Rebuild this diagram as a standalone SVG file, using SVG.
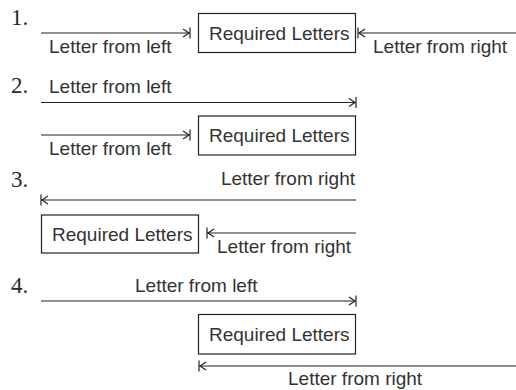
<svg xmlns="http://www.w3.org/2000/svg" width="516" height="390" viewBox="0 0 516 390">
  <style>
    .box { fill: #fff; stroke: #222; stroke-width: 1.2; }
    .lbl { font-family: "Liberation Sans", Arial, sans-serif; font-size: 19px; fill: #333; }
    .num { font-family: "Liberation Serif", "Times New Roman", serif; font-size: 23px; fill: #2a2a2a; }
    .wire { fill: none; stroke: #222; stroke-width: 1.2; marker-end: url(#tipbar); }
  </style>
  <defs>
    <!-- open arrowhead with a stop bar at the tip -->
    <marker id="tipbar" viewBox="-8 -7 10 14" refX="0" refY="0" markerWidth="10" markerHeight="14" markerUnits="userSpaceOnUse" orient="auto" overflow="visible">
      <path d="M-6,-4 L0,0 L-6,4 M1,-5.5 V5.5" fill="none" stroke="#222" stroke-width="1.2"/>
    </marker>
  </defs>

  <!-- case numbers -->
  <g id="numbers">
    <text class="num" x="11" y="25">1.</text>
    <text class="num" x="11" y="93">2.</text>
    <text class="num" x="11" y="187">3.</text>
    <text class="num" x="11" y="293">4.</text>
  </g>

  <!-- required-letter boxes -->
  <g id="box1">
    <rect class="box" x="198.5" y="13.5" width="157" height="39"/>
    <text class="lbl" x="209" y="39.5">Required Letters</text>
  </g>
  <g id="box2">
    <rect class="box" x="198.5" y="116" width="157" height="39"/>
    <text class="lbl" x="209" y="142">Required Letters</text>
  </g>
  <g id="box3">
    <rect class="box" x="41.5" y="215" width="157" height="38"/>
    <text class="lbl" x="52" y="240.5">Required Letters</text>
  </g>
  <g id="box4">
    <rect class="box" x="198.5" y="314.5" width="157" height="39.5"/>
    <text class="lbl" x="209" y="341">Required Letters</text>
  </g>

  <!-- letter arrows -->
  <g id="connectors">
    <line class="wire" x1="41" y1="33" x2="189" y2="33"/>
    <line class="wire" x1="516" y1="33" x2="359" y2="33"/>
    <line class="wire" x1="41" y1="102.5" x2="355" y2="102.5"/>
    <line class="wire" x1="41" y1="135" x2="189" y2="135"/>
    <line class="wire" x1="356" y1="200" x2="42" y2="200"/>
    <line class="wire" x1="356" y1="233" x2="208" y2="233"/>
    <line class="wire" x1="41" y1="301" x2="355" y2="301"/>
    <line class="wire" x1="516" y1="366" x2="200" y2="366"/>
  </g>

  <!-- arrow labels -->
  <g id="labels">
    <text class="lbl" x="49" y="53">Letter from left</text>
    <text class="lbl" x="373" y="53">Letter from right</text>
    <text class="lbl" x="49" y="93">Letter from left</text>
    <text class="lbl" x="49" y="155">Letter from left</text>
    <text class="lbl" x="355" y="185" text-anchor="end">Letter from right</text>
    <text class="lbl" x="217" y="253">Letter from right</text>
    <text class="lbl" x="135" y="292">Letter from left</text>
    <text class="lbl" x="288" y="385">Letter from right</text>
  </g>
</svg>
